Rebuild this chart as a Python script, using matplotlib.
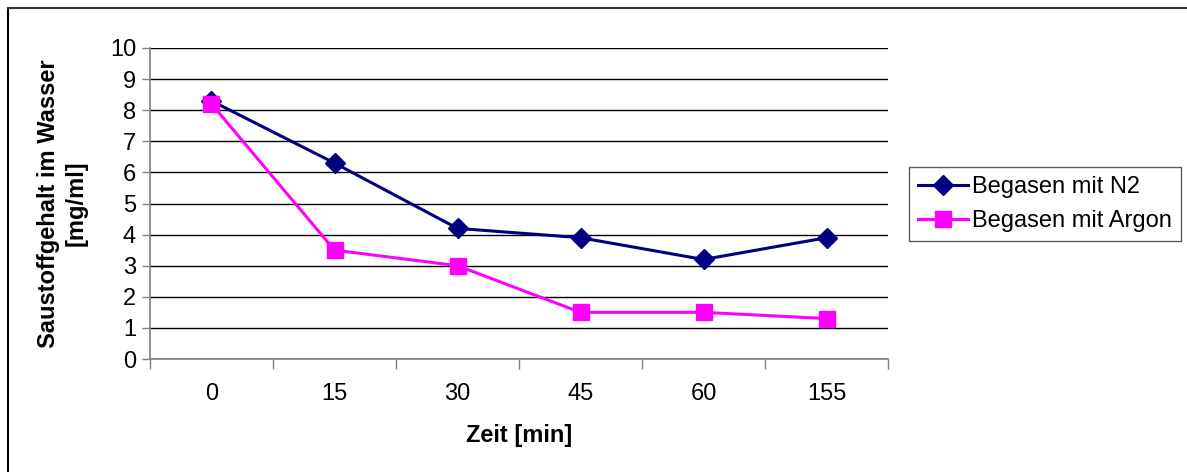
import matplotlib
matplotlib.use("Agg")
from matplotlib import pyplot as plt
from matplotlib.lines import Line2D

plt.rcParams['font.family'] = ['Liberation Sans', 'DejaVu Sans']

zeit = ['0', '15', '30', '45', '60', '155']
n2 = [8.3, 6.3, 4.2, 3.9, 3.2, 3.9]
argon = [8.2, 3.5, 3.0, 1.5, 1.5, 1.3]

fig = plt.figure(figsize=(11.87, 4.72), dpi=100)
ax = fig.add_axes([150 / 1187, 1 - 359 / 472, 738 / 1187, 311 / 472])

x = list(range(len(zeit)))
ax.plot(x, n2, color='#000080', lw=2.2, marker='D', ms=10, label='Begasen mit N2')
ax.plot(x, argon, color='#FF00FF', lw=2.2, marker='s', ms=11.5, label='Begasen mit Argon')

ax.set_xlim(-0.5, len(zeit) - 0.5)
ax.set_ylim(0, 10)
ax.set_yticks(range(0, 11))
ax.set_xticks(x)
ax.set_xticklabels(zeit)
# tick marks sit between the categories
ax.set_xticks([i - 0.5 for i in range(len(zeit) + 1)], minor=True)
ax.tick_params(axis='x', which='major', length=0, labelsize=17, pad=17)
ax.tick_params(axis='x', which='minor', length=7, width=1, color='#808080', direction='out')
ax.tick_params(axis='y', length=6, width=1, color='#808080', labelsize=17, pad=4)

ax.grid(axis='y', color='black', lw=1)
ax.set_axisbelow(True)
for s in ['top', 'right']:
    ax.spines[s].set_visible(False)
for s in ['left', 'bottom']:
    ax.spines[s].set_color('#808080')
    ax.spines[s].set_linewidth(1.2)

ax.set_xlabel('Zeit [min]', fontsize=17, fontweight='bold', labelpad=14)
ax.set_ylabel('Saustoffgehalt im Wasser\n[mg/ml]', fontsize=17, fontweight='bold',
              labelpad=16, linespacing=1.25)

leg = fig.legend(loc='center left', bbox_to_anchor=(909 / 1187, 1 - 204 / 472),
                 fontsize=17, frameon=True, fancybox=False, edgecolor='#333333',
                 borderpad=0.4, handlelength=2.1, handletextpad=0.15, labelspacing=0.5,
                 borderaxespad=0)
leg.get_frame().set_linewidth(1)

# chart area border
fig.add_artist(Line2D([8 / 1187, 8 / 1187], [0, 1 - 8 / 472], color='black', lw=1.5,
                      transform=fig.transFigure))
fig.add_artist(Line2D([8 / 1187, 1], [1 - 8 / 472, 1 - 8 / 472], color='#333333', lw=1.5,
                      transform=fig.transFigure))

fig.savefig('out.png', dpi=100)
